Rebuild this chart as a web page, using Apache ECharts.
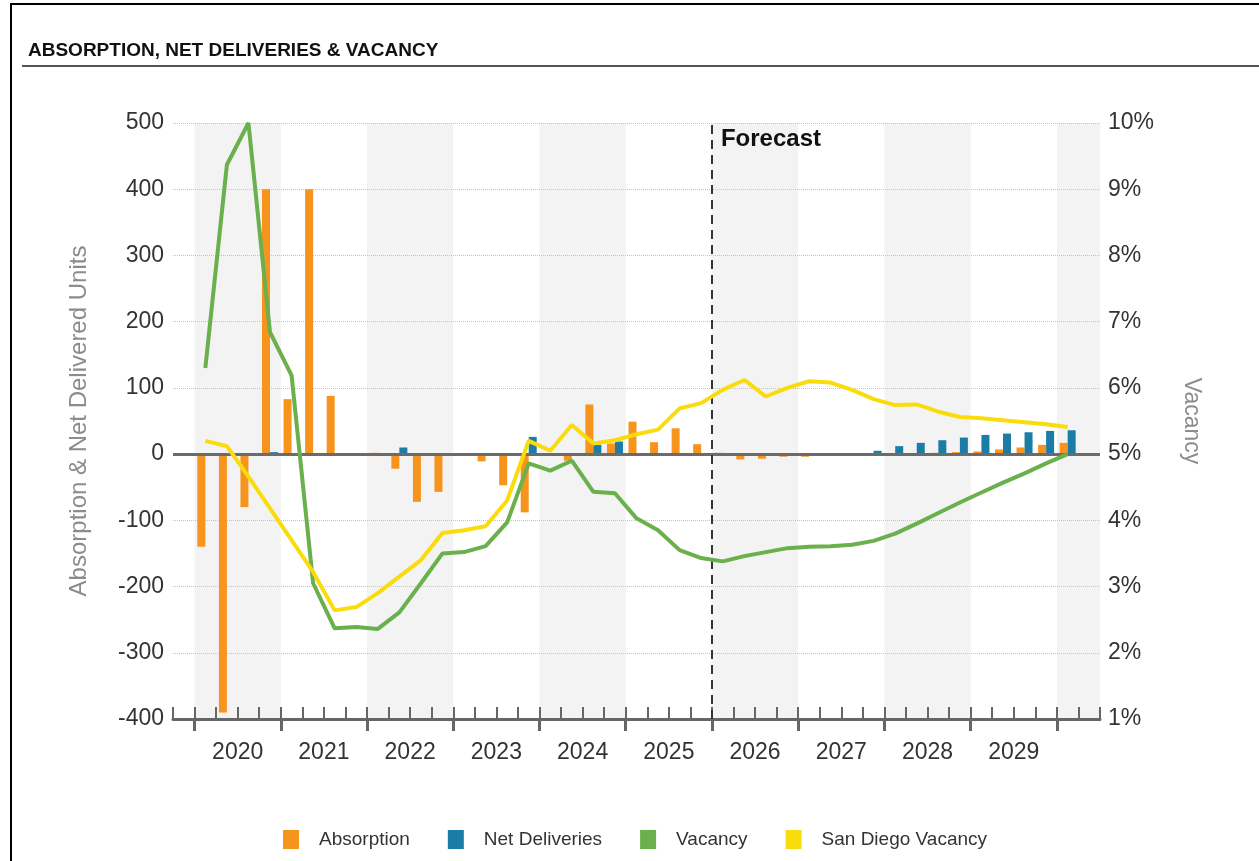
<!DOCTYPE html>
<html>
<head>
<meta charset="utf-8">
<title>Absorption, Net Deliveries & Vacancy</title>
<script src="https://cdn.jsdelivr.net/npm/echarts@6/dist/echarts.min.js"></script>
<style>
  html, body { margin: 0; padding: 0; background: #fff; }
  #chart { width: 1259px; height: 861px; }
</style>
</head>
<body>
<div id="chart"></div>
<script>
// year labels on the x axis
var years = ["2020", "2021", "2022", "2023", "2024", "2025", "2026", "2027", "2028", "2029"];

// one slot per quarter, 2019 Q4 .. 2030 Q2 (data runs 2020 Q1 .. 2030 Q1)
var quarters = ["2019 Q4"];
years.concat(["2030"]).forEach(function (y) {
  ["Q1", "Q2", "Q3", "Q4"].forEach(function (q) {
    quarters.push(y + " " + q);
  });
});
quarters = quarters.slice(0, 43);

// units per quarter
var absorption = [null,
  -140, -390, -80, 400,
  83, 400, 88, -2,
  2, -22, -72, -57,
  -1, -11, -47, -88,
  0, -10, 75, 16,
  49, 18, 39, 15,
  2, -8, -7, -4,
  -4, -1, -1, -1,
  -2, 1, 2, 3,
  4, 7, 10, 14,
  17, null];

var netDeliveries = [null,
  0, 0, 0, 3,
  0, 0, 0, 0,
  0, 10, 0, 0,
  0, 0, 0, 26,
  0, 0, 14, 19,
  0, 0, 0, 0,
  0, 0, 0, 0,
  0, 0, 0, 5,
  12, 17, 21, 25,
  29, 31, 33, 35,
  36, null];

// percent
var vacancy = [null,
  6.30, 9.37, 10.0, 6.84,
  6.19, 3.05, 2.37, 2.39,
  2.36, 2.61, 3.05, 3.50,
  3.52, 3.61, 3.97, 4.86,
  4.75, 4.90, 4.43, 4.41,
  4.03, 3.85, 3.55, 3.43,
  3.38, 3.46, 3.52, 3.58,
  3.60, 3.61, 3.63, 3.69,
  3.80, 3.95, 4.11, 4.27,
  4.42, 4.57, 4.71, 4.86,
  5.0, null];

var sanDiegoVacancy = [null,
  5.20, 5.12, 4.66, 4.18,
  3.70, 3.22, 2.64, 2.69,
  2.90, 3.15, 3.40, 3.81,
  3.85, 3.91, 4.30, 5.20,
  5.05, 5.44, 5.16, 5.21,
  5.30, 5.37, 5.69, 5.77,
  5.97, 6.12, 5.87, 6.00,
  6.10, 6.08, 5.97, 5.83,
  5.74, 5.75, 5.64, 5.56,
  5.54, 5.51, 5.48, 5.45,
  5.41, null];

var shadedYears = ["2020", "2022", "2024", "2026", "2028", "2030"];
var forecastYear = "2026";

// position on the hidden value axis (one unit per quarter, 0 = start of 2019 Q4)
function yearStart(y) {
  return 1 + 4 * (parseInt(y, 10) - 2020);
}

var yearTicks = years.concat(["2030"]).map(yearStart);
var yearLabelPos = years.map(function (y) { return yearStart(y) + 2; });

var bands = shadedYears.map(function (y) {
  var s = yearStart(y);
  return [{ xAxis: s }, { xAxis: Math.min(s + 4, quarters.length) }];
});

var chart = echarts.init(document.getElementById("chart"));

var option = {
  animation: false,
  textStyle: { fontFamily: 'Arial, "Liberation Sans", sans-serif' },
  title: {
    text: "ABSORPTION, NET DELIVERIES & VACANCY",
    left: 23,
    top: 36,
    textStyle: {
      fontFamily: 'Arial, "Liberation Sans", sans-serif',
      fontSize: 19,
      fontWeight: "bold",
      color: "#111"
    }
  },
  graphic: [
    {
      type: "rect",
      silent: true,
      shape: { x: 11, y: 4, width: 1400, height: 1000 },
      style: { fill: "none", stroke: "#000", lineWidth: 2 }
    },
    {
      type: "line",
      silent: true,
      shape: { x1: 22, y1: 66, x2: 1259, y2: 66 },
      style: { stroke: "#555", lineWidth: 2 }
    }
  ],
  legend: {
    data: ["Absorption", "Net Deliveries", "Vacancy", "San Diego Vacancy"],
    left: 278,
    top: 825,
    icon: "rect",
    itemWidth: 16,
    itemHeight: 19,
    itemGap: 38,
    textStyle: { fontSize: 19, color: "#333", padding: [0, 0, 0, 15] }
  },
  grid: {
    left: 173,
    right: 159,
    top: 123,
    bottom: 142,
    outerBoundsMode: "none"
  },
  xAxis: [
    {
      type: "category",
      data: quarters,
      boundaryGap: true,
      z: 4,
      axisLine: { onZero: false, lineStyle: { color: "#666", width: 3 } },
      axisTick: {
        show: true,
        inside: true,
        length: 12,
        interval: 0,
        lineStyle: { color: "#666", width: 2 }
      },
      axisLabel: { show: false },
      splitLine: { show: false }
    },
    {
      type: "value",
      min: 0,
      max: quarters.length,
      position: "bottom",
      z: 4,
      axisLine: { show: false, onZero: false },
      axisTick: {
        show: true,
        customValues: yearTicks,
        length: 12,
        lineStyle: { color: "#666", width: 3 }
      },
      axisLabel: {
        show: true,
        customValues: yearLabelPos,
        margin: 22,
        fontSize: 23,
        color: "#333",
        formatter: function (v) {
          var i = (v - 3) / 4;
          return years[i] || "";
        }
      },
      splitLine: { show: false }
    }
  ],
  yAxis: [
    {
      type: "value",
      min: -400,
      max: 500,
      interval: 100,
      z: 2,
      name: "Absorption & Net Delivered Units",
      nameLocation: "middle",
      nameGap: 82,
      nameTextStyle: { color: "#8c8c8c", fontSize: 24 },
      axisLine: { show: false },
      axisTick: { show: false },
      axisLabel: { color: "#333", fontSize: 23, margin: 9 },
      splitLine: { lineStyle: { color: "#c4c4c4", type: "dotted", width: 1 } }
    },
    {
      type: "value",
      position: "right",
      min: 1,
      max: 10,
      interval: 1,
      z: 2,
      name: "Vacancy",
      nameLocation: "middle",
      nameRotate: -90,
      nameGap: 80,
      nameTextStyle: { color: "#8c8c8c", fontSize: 23 },
      axisLine: { show: false },
      axisTick: { show: false },
      axisLabel: { color: "#333", fontSize: 23, margin: 8, formatter: "{value}%" },
      splitLine: { show: false }
    }
  ],
  series: [
    {
      // alternating year shading
      name: "bands",
      type: "line",
      xAxisIndex: 1,
      yAxisIndex: 0,
      data: [],
      z: 0,
      silent: true,
      markArea: {
        silent: true,
        z: 0,
        itemStyle: { color: "#f3f3f3" },
        data: bands
      }
    },
    {
      name: "Absorption",
      type: "bar",
      xAxisIndex: 0,
      yAxisIndex: 0,
      barWidth: 8,
      barGap: "0%",
      itemStyle: { color: "#f7941d" },
      data: absorption,
      z: 3
    },
    {
      name: "Net Deliveries",
      type: "bar",
      xAxisIndex: 0,
      yAxisIndex: 0,
      barWidth: 8,
      barGap: "0%",
      itemStyle: { color: "#1b7da6" },
      data: netDeliveries,
      z: 3
    },
    {
      // zero line, forecast divider and its label
      name: "guides",
      type: "line",
      xAxisIndex: 1,
      yAxisIndex: 0,
      data: [],
      z: 4,
      silent: true,
      markLine: {
        silent: true,
        symbol: ["none", "none"],
        label: { show: false },
        data: [
          { yAxis: 0, lineStyle: { color: "#6b6b6b", width: 3, type: "solid" } },
          { xAxis: yearStart(forecastYear), lineStyle: { color: "#333", width: 2, type: [9, 6] } }
        ]
      },
      markPoint: {
        silent: true,
        symbol: "rect",
        symbolSize: 0,
        data: [
          {
            coord: [yearStart(forecastYear), 500],
            label: {
              show: true,
              formatter: "Forecast",
              position: "right",
              distance: 9,
              offset: [0, 16],
              color: "#111",
              fontSize: 24,
              fontWeight: "bold"
            }
          }
        ]
      }
    },
    {
      name: "Vacancy",
      type: "line",
      xAxisIndex: 0,
      yAxisIndex: 1,
      symbol: "none",
      lineStyle: { width: 4, color: "#6ab04c" },
      itemStyle: { color: "#6ab04c" },
      data: vacancy,
      z: 5
    },
    {
      name: "San Diego Vacancy",
      type: "line",
      xAxisIndex: 0,
      yAxisIndex: 1,
      symbol: "none",
      lineStyle: { width: 4, color: "#fadc0c" },
      itemStyle: { color: "#fadc0c" },
      data: sanDiegoVacancy,
      z: 5
    }
  ]
};

chart.setOption(option);
</script>
</body>
</html>
